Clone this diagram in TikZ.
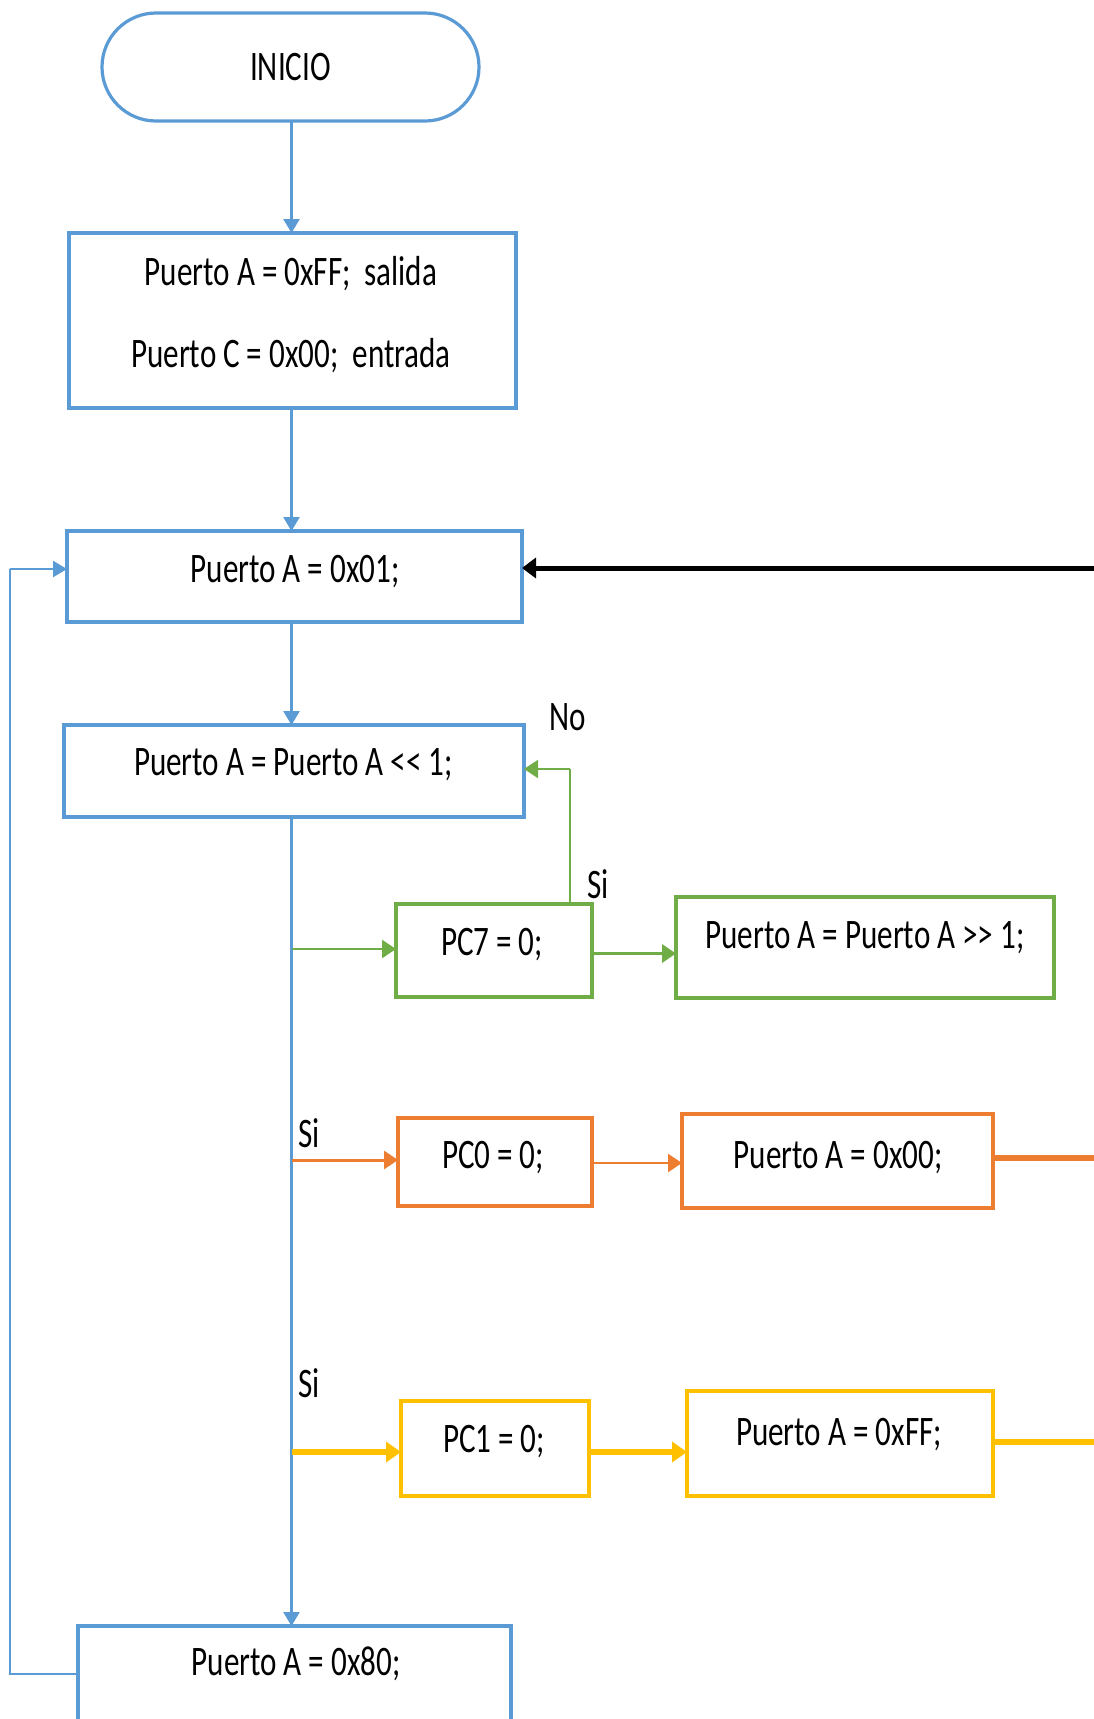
\documentclass[tikz,border=0pt]{standalone}
\usepackage{fontspec}
\setmainfont[FakeStretch=0.74]{Carlito}
\usetikzlibrary{arrows.meta,calc}

\definecolor{fcBlue}{HTML}{5B9BD5}
\definecolor{fcGreen}{HTML}{70AD47}
\definecolor{fcOrange}{HTML}{ED7D31}
\definecolor{fcYellow}{HTML}{FFC000}

\begin{document}
\begin{tikzpicture}[x=1pt,y=-1pt,
  every node/.style={inner sep=0pt, outer sep=0pt},
  size/.style 2 args={rectangle, minimum width=#1pt, minimum height=#2pt},
  bluebox/.style={draw=fcBlue, line width=3.2pt},
  greenbox/.style={draw=fcGreen, line width=3.2pt},
  orangebox/.style={draw=fcOrange, line width=3.2pt},
  yellowbox/.style={draw=fcYellow, line width=3.2pt},
  txt/.style={anchor=base, font=\fontsize{42}{50}\selectfont},
  bluearrow/.style={draw=fcBlue, line width=2.6pt, -{Triangle[length=14pt,width=16pt]}},
  blueline/.style={draw=fcBlue, line width=2.4pt},
  greenarrow/.style={draw=fcGreen, line width=#1, -{Triangle[length=14pt,width=18pt]}},
  orangearrow/.style={draw=fcOrange, line width=#1, -{Triangle[length=14pt,width=18pt]}},
  yellowarrow/.style={draw=fcYellow, line width=6pt, -{Triangle[length=15pt,width=20pt]}},
]
\useasboundingbox (0,0) rectangle (1094,1719);
\clip (0,0) rectangle (1094,1719);

% ---- boxes ----
\node[bluebox, rounded corners=54pt, size={377}{108}] (term) at (290.5,67) {};
\node[bluebox, size={447}{175}] (b1) at (292.5,320.5) {};
\node[bluebox, size={455}{91}]  (b2) at (294.5,576.5) {};
\node[bluebox, size={460}{92}]  (b3) at (294,771) {};
\node[greenbox, size={196}{93}]  (pc7) at (494,950.5) {};
\node[greenbox, size={378}{101}] (shr) at (865,947.5) {};
\node[orangebox, size={194}{88}] (pc0) at (495,1162) {};
\node[orangebox, size={311}{94}] (a00) at (837.5,1161) {};
\node[yellowbox, size={188}{95}] (pc1) at (495,1448.5) {};
\node[yellowbox, size={306}{105}] (aff) at (840,1443.5) {};
\node[bluebox, size={433}{160}] (b80) at (294.5,1706) {};

% ---- texts ----
\node[txt] (tterm) at (290.5,80) {INICIO};
\node[txt] (tb1a) at (291,285) {Puerto A = 0xFF;\ \ salida};
\node[txt] (tb1b) at (291,367) {Puerto C = 0x00;\ \ entrada};
\node[txt] (tb2) at (295,582) {Puerto A = 0x01;};
\node[txt] (tb3) at (293.5,775) {Puerto A = Puerto A <{}< 1;};
\node[txt] (tpc7) at (492,955) {PC7 = 0;};
\node[txt] (tshr) at (865,948) {Puerto A = Puerto A >{}> 1;};
\node[txt] (tpc0) at (493,1168) {PC0 = 0;};
\node[txt] (ta00) at (838,1168) {Puerto A = 0x00;};
\node[txt] (tpc1) at (494,1452) {PC1 = 0;};
\node[txt] (taff) at (839,1445) {Puerto A = 0xFF;};
\node[txt] (tb80) at (296,1675) {Puerto A = 0x80;};
\node[txt] (lno) at (568,730) {No};
\node[txt] (lsi7) at (598,898) {Si};
\node[txt] (lsi0) at (309,1147) {Si};
\node[txt] (lsi1) at (309,1397) {Si};

% ---- helper points ----
\coordinate (spine) at (291.5,0);
\coordinate (j7) at (291.5,949);
\coordinate (j0) at (291.5,1160);
\coordinate (j1) at (291.5,1452);
\coordinate (p7) at ($(pc7.east)+(0,3)$);
\coordinate (p0) at ($(pc0.east)+(0,1)$);
\coordinate (nob) at (570,769);
\coordinate (fbl) at (10,1674);
\coordinate (fbt) at (10,569);
\coordinate (bk) at (1094,568);
\coordinate (oe) at (1094,1158);
\coordinate (ye) at (1094,1442);

% ---- main flow ----
\draw[bluearrow] (term.south -| spine) -- (b1.north -| spine);
\draw[bluearrow] (b1.south -| spine) -- (b2.north -| spine);
\draw[bluearrow] (b2.south -| spine) -- (b3.north -| spine);
\draw[bluearrow] (b3.south -| spine) -- (b80.north -| spine);

% ---- loop back to the start ----
\draw[blueline] (fbl -| b80.west) -- (fbl) -- (fbt);
\draw[bluearrow] (fbt) -- (fbt -| b2.west);

% ---- return from the right ----
\draw[line width=5pt, -{Triangle[length=14pt,width=20pt]}] (bk) -- (bk -| b2.east);

% ---- PC7 branch ----
\draw[greenarrow=2.5pt] (j7) -- (j7 -| pc7.west);
\draw[greenarrow=3.5pt] (p7) -- (p7 -| shr.west);
\draw[draw=fcGreen, line width=1.8pt] (nob |- pc7.north) -- (nob);
\draw[greenarrow=2pt] (nob) -- (nob -| b3.east);

% ---- PC0 branch ----
\draw[orangearrow=3pt] (j0) -- (j0 -| pc0.west);
\draw[orangearrow=2.5pt] (p0) -- (p0 -| a00.west);
\draw[draw=fcOrange, line width=6pt] (oe -| a00.east) -- (oe);

% ---- PC1 branch ----
\draw[yellowarrow] (j1) -- (j1 -| pc1.west);
\draw[yellowarrow] (pc1.east |- j1) -- (j1 -| aff.west);
\draw[draw=fcYellow, line width=6pt] (ye -| aff.east) -- (ye);
\end{tikzpicture}
\end{document}
